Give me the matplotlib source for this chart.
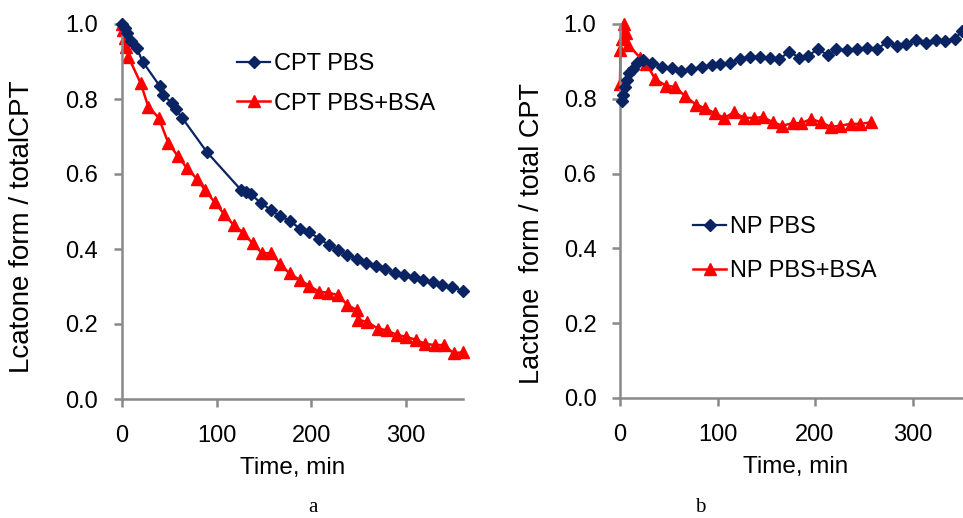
import matplotlib
matplotlib.use("Agg")
import matplotlib.pyplot as plt

plt.rcParams['font.family'] = ['Liberation Sans', 'DejaVu Sans']

# ---- Data: panel a ----
cpt_pbs_t = [0, 3, 6, 10, 16, 22, 40, 44, 53, 57, 64, 90, 126, 131, 136, 147, 157, 167,
             177, 188, 198, 208, 219, 228, 238, 248, 258, 268, 278, 288, 298, 308, 318,
             328, 338, 348, 360]
cpt_pbs_y = [1.0, 0.99, 0.975, 0.955, 0.935, 0.90, 0.835, 0.81, 0.789, 0.773, 0.749, 0.658,
             0.557, 0.552, 0.547, 0.522, 0.505, 0.487, 0.476, 0.454, 0.445, 0.428, 0.41,
             0.398, 0.385, 0.374, 0.363, 0.356, 0.347, 0.336, 0.330, 0.326, 0.317, 0.311,
             0.303, 0.298, 0.289]

cpt_bsa_t = [0, 1, 3, 5, 7, 20, 28, 39, 49, 59, 69, 79, 88, 98, 108, 118, 128, 138, 148,
             158, 167, 177, 188, 198, 208, 218, 228, 238, 248, 249, 259, 270, 280, 290,
             300, 310, 320, 330, 340, 350, 360]
cpt_bsa_y = [1.0, 0.984, 0.962, 0.94, 0.913, 0.842, 0.78, 0.75, 0.684, 0.648, 0.615, 0.588,
             0.557, 0.525, 0.493, 0.464, 0.444, 0.415, 0.389, 0.389, 0.360, 0.335, 0.317,
             0.302, 0.286, 0.284, 0.277, 0.251, 0.237, 0.211, 0.206, 0.188, 0.183, 0.171,
             0.166, 0.158, 0.147, 0.144, 0.144, 0.122, 0.125]

# ---- Data: panel b ----
np_pbs_t = [1.7, 2.8, 5, 7.5, 9.5, 13, 17, 24, 33, 43, 53, 62.5, 73, 84, 94, 103, 113, 123,
            133, 143.6, 153.8, 163.4, 173.6, 184, 193, 203, 213.6, 222, 233, 243, 253.6,
            264, 273.5, 283.8, 293, 303.6, 313.8, 324, 333, 343.6, 351]
np_pbs_y = [0.793, 0.81, 0.832, 0.85, 0.868, 0.88, 0.895, 0.904, 0.897, 0.885, 0.882, 0.873,
            0.881, 0.884, 0.890, 0.892, 0.897, 0.906, 0.913, 0.913, 0.91, 0.906, 0.926,
            0.91, 0.915, 0.933, 0.916, 0.932, 0.93, 0.934, 0.935, 0.932, 0.953, 0.942,
            0.947, 0.957, 0.948, 0.957, 0.955, 0.96, 0.982]

np_bsa_t = [0, 0.5, 2, 4, 6, 8.5, 20.5, 27, 36, 47, 56, 67, 78, 87, 97, 107, 117, 127, 137,
            147, 157, 166.5, 177, 186, 196, 206.5, 216, 226, 236.5, 246, 257.6]
np_bsa_y = [0.84, 0.93, 0.96, 1.0, 0.975, 0.945, 0.91, 0.894, 0.853, 0.835, 0.832, 0.807,
            0.784, 0.775, 0.762, 0.749, 0.764, 0.749, 0.749, 0.751, 0.737, 0.728, 0.735,
            0.735, 0.746, 0.737, 0.725, 0.728, 0.733, 0.733, 0.737]

x_ticks = [0, 100, 200, 300]
y_ticks = [0.0, 0.2, 0.4, 0.6, 0.8, 1.0]
y_ticklabels = ['0.0', '0.2', '0.4', '0.6', '0.8', '1.0']

BLUE = '#0A2463'
RED = '#FF0000'
GRAY = '#898989'

W, H = 963, 518
fig = plt.figure(figsize=(W / 100, H / 100), dpi=100)

def px_axes(x0, x1, ytop, ybot):
    return fig.add_axes([x0 / W, 1 - ybot / H, (x1 - x0) / W, (ybot - ytop) / H])

ax1 = px_axes(121.7, 463, 24, 399)
ax2 = px_axes(620, 971, 24, 398)

def style(ax):
    ax.set_xlim(0, 360)
    ax.set_ylim(0, 1.0)
    for s in ['top', 'right']:
        ax.spines[s].set_visible(False)
    for s in ['left', 'bottom']:
        ax.spines[s].set_color(GRAY)
        ax.spines[s].set_linewidth(1.8)
    ax.set_xticks(x_ticks)
    ax.set_yticks(y_ticks)
    ax.set_yticklabels(y_ticklabels)
    ax.tick_params(axis='both', direction='out', length=6, width=1.8, color=GRAY,
                   labelsize=17, labelcolor='black')
    ax.tick_params(axis='x', pad=13)
    ax.tick_params(axis='y', pad=11)
    ax.set_xlabel('Time, min', fontsize=17.5)
    ax.xaxis.set_label_coords(0.5, -0.155)

style(ax1)
style(ax2)

ax1.plot(cpt_pbs_t, cpt_pbs_y, color=BLUE, lw=1.6, marker='D', ms=6.3,
         label='CPT PBS', clip_on=False, zorder=3)
ax1.plot(cpt_bsa_t, cpt_bsa_y, color=RED, lw=1.8, marker='^', ms=8.5,
         label='CPT PBS+BSA', clip_on=False, zorder=2)
ax1.set_ylabel('Lcatone form / totalCPT', fontsize=20)
ax1.yaxis.set_label_coords(-0.254, 0.46)

ax2.plot(np_pbs_t, np_pbs_y, color=BLUE, lw=1.6, marker='D', ms=6.3,
         label='NP PBS', clip_on=False, zorder=3)
ax2.plot(np_bsa_t, np_bsa_y, color=RED, lw=1.8, marker='^', ms=8.5,
         label='NP PBS+BSA', clip_on=False, zorder=2)
ax2.set_ylabel('Lactone  form / total CPT', fontsize=19.5)
ax2.yaxis.set_label_coords(-0.214, 0.44)

ax1.legend(loc='upper left', bbox_to_anchor=(237 / W, 1 - 53 / H),
           bbox_transform=fig.transFigure, frameon=False, fontsize=17,
           borderpad=0, borderaxespad=0, handlelength=1.4, handletextpad=0.15,
           labelspacing=0.75)
ax2.legend(loc='upper left', bbox_to_anchor=(693 / W, 1 - 216 / H),
           bbox_transform=fig.transFigure, frameon=False, fontsize=17,
           borderpad=0, borderaxespad=0, handlelength=1.4, handletextpad=0.15,
           labelspacing=0.95)

fig.text(313 / W, 1 - 508 / H, 'a', ha='center', va='center',
         family=['Liberation Serif', 'DejaVu Serif'], fontsize=15)
fig.text(700 / W, 1 - 508 / H, 'b', ha='center', va='center',
         family=['Liberation Serif', 'DejaVu Serif'], fontsize=15)

fig.savefig('out.png', dpi=100)
